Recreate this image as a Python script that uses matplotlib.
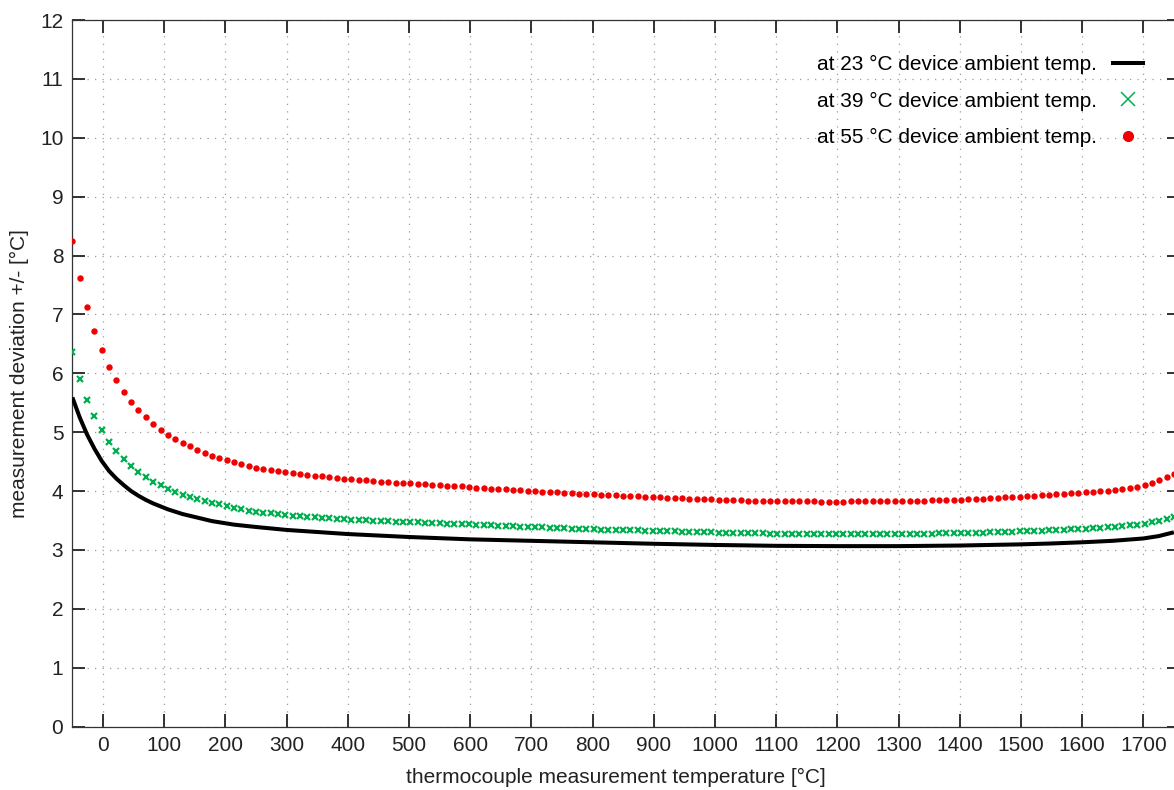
import matplotlib
matplotlib.use("Agg")
import matplotlib.pyplot as plt
from matplotlib.lines import Line2D

plt.rcParams['font.family'] = ['Liberation Sans', 'DejaVu Sans']

# sample grid of the measurement temperature (deg C)
temp_samples = list(range(-50, 1751, 12))

dev_55 = [8.25, 7.62, 7.12, 6.72, 6.39, 6.11, 5.88, 5.69, 5.52, 5.38, 5.25, 5.14, 5.04, 4.96, 4.89, 4.82, 4.76, 4.70, 4.65, 4.60, 4.56, 4.52, 4.49,
          4.46, 4.43, 4.40, 4.38, 4.36, 4.34, 4.32, 4.30, 4.29, 4.28, 4.26, 4.25, 4.24, 4.22, 4.21, 4.20, 4.19, 4.18, 4.17, 4.16,
          4.15, 4.14, 4.13, 4.13, 4.12, 4.12, 4.10, 4.10, 4.09, 4.08, 4.08, 4.07, 4.06, 4.05, 4.04, 4.04,
          4.032, 4.026, 4.014, 4.008, 3.997, 3.991, 3.986, 3.980, 3.974, 3.969, 3.957, 3.957, 3.951, 3.940, 3.934, 3.929, 3.923,
          3.918, 3.912, 3.906, 3.900, 3.895, 3.889, 3.884, 3.878, 3.872, 3.867, 3.867, 3.861, 3.855, 3.850, 3.850, 3.844, 3.838,
          3.838, 3.833, 3.833, 3.833, 3.827, 3.827, 3.827,
          3.825, 3.825, 3.822, 3.822, 3.822, 3.822, 3.825, 3.827,
          3.827, 3.827, 3.827, 3.833, 3.833, 3.833, 3.833, 3.838, 3.838, 3.844, 3.850, 3.850, 3.855, 3.855, 3.861, 3.867, 3.872,
          3.878, 3.889, 3.895, 3.900, 3.906, 3.917, 3.923, 3.934, 3.940, 3.951, 3.957, 3.968, 3.974, 3.980, 3.991, 4.002, 4.008,
          4.019, 4.036, 4.047, 4.070, 4.104, 4.138, 4.183, 4.234, 4.291]

dev_39 = [6.36, 5.91, 5.55, 5.27, 5.03, 4.84, 4.68, 4.54, 4.42, 4.32, 4.24, 4.16, 4.10, 4.04, 3.99, 3.94, 3.90, 3.87, 3.83, 3.80, 3.78, 3.75, 3.72,
          3.697, 3.669, 3.652, 3.635, 3.623, 3.606, 3.595, 3.584, 3.572, 3.567, 3.555, 3.550, 3.538, 3.533, 3.527, 3.516, 3.510,
          3.504, 3.499, 3.493, 3.487, 3.482, 3.482, 3.476, 3.470, 3.465, 3.459, 3.453, 3.448, 3.442, 3.436, 3.436, 3.431, 3.425,
          3.419, 3.414,
          3.408, 3.402, 3.397, 3.391, 3.388, 3.383, 3.377, 3.371, 3.368, 3.363, 3.357, 3.357, 3.351, 3.346, 3.346, 3.340, 3.340,
          3.334, 3.334, 3.329, 3.329, 3.323, 3.317, 3.317, 3.312, 3.306, 3.306, 3.300, 3.300, 3.295, 3.295, 3.289, 3.289, 3.283,
          3.283, 3.283, 3.278, 3.278, 3.272, 3.272, 3.272,
          3.272, 3.270, 3.270, 3.270, 3.270, 3.270, 3.270, 3.272,
          3.272, 3.272, 3.272, 3.272, 3.272, 3.272, 3.278, 3.278, 3.278, 3.278, 3.283, 3.283, 3.283, 3.289, 3.289, 3.295, 3.295,
          3.300, 3.300, 3.306, 3.312, 3.317, 3.317, 3.323, 3.329, 3.334, 3.340, 3.346, 3.351, 3.357, 3.363, 3.368, 3.374, 3.385,
          3.397, 3.408, 3.419, 3.431, 3.448, 3.470, 3.493, 3.521, 3.561]

temp_23 = [-50, -38, -26, -14, -2, 10, 22, 34, 46, 58, 70, 82, 94, 106, 130, 154, 178, 214, 250, 300, 400, 500, 600,
           700, 800, 900, 1000, 1100, 1200, 1300, 1400, 1500, 1550, 1600, 1650, 1700, 1725, 1750]
dev_23 = [5.59, 5.25, 4.96, 4.72, 4.51, 4.34, 4.21, 4.10, 4.00, 3.92, 3.85, 3.79, 3.74, 3.69, 3.61, 3.55, 3.49, 3.43, 3.39,
          3.34, 3.27, 3.22, 3.18, 3.155, 3.13, 3.105, 3.085, 3.07, 3.065, 3.065, 3.075, 3.095, 3.11, 3.13, 3.155, 3.195, 3.235, 3.30]

labels = ['at 23 °C device ambient temp.', 'at 39 °C device ambient temp.', 'at 55 °C device ambient temp.']
x_ticks = list(range(0, 1701, 100))
y_ticks = list(range(0, 13))

RED = '#f00000'
GREEN = '#00b050'
FS = 15

W, H = 1174, 790
fig = plt.figure(figsize=(W / 100, H / 100), dpi=100)
ax = fig.add_axes([72.4 / W, (H - 726.6) / H, (1180 - 72.4) / W, (726.6 - 20) / H])

ax.plot(temp_23, dev_23, color='black', lw=2.9, solid_capstyle='butt', zorder=3)
ax.plot(temp_samples, dev_39, ls='none', marker='x', ms=3.9, mew=1.6, color=GREEN, zorder=4)
ax.plot(temp_samples, dev_55, ls='none', marker='o', ms=4.6, mew=0, color=RED, zorder=5)

ax.set_xlim(-50, 1760)
ax.set_ylim(0, 12)
ax.set_xticks(x_ticks)
ax.set_yticks(y_ticks)
ax.tick_params(direction='in', length=9.4, width=1.3, top=True, right=True,
               labelsize=FS, pad=6.5, colors='#222222')
ax.grid(True, color='#9a9a9a', lw=0.9, ls=(0, (1, 5)))
for s in ax.spines.values():
    s.set_linewidth(0.9)
    s.set_color('#333333')

ax.set_xlabel('thermocouple measurement temperature [°C]', fontsize=FS, color='#222222')
ax.set_ylabel('measurement deviation +/- [°C]', fontsize=FS, color='#222222')
ax.xaxis.set_label_coords((616 - 72.4) / (1180 - 72.4), -(768 - 726.6) / (726.6 - 20))
ax.yaxis.set_label_coords((29 - 72.4) / (1180 - 72.4), 0.5)

handles = [Line2D([], [], color='black', lw=2.9),
           Line2D([], [], ls='none', marker='x', ms=9.5, mew=1.1, color=GREEN),
           Line2D([], [], ls='none', marker='o', ms=8, mew=0, color=RED)]
leg = fig.legend(handles, labels, loc='upper right', bbox_to_anchor=(1143 / W, (H - 55) / H),
                 frameon=False, markerfirst=False, fontsize=FS, borderpad=0, borderaxespad=0,
                 handlelength=1.45, handletextpad=0.75, labelspacing=0.84)

fig.savefig('out.png', dpi=100)
